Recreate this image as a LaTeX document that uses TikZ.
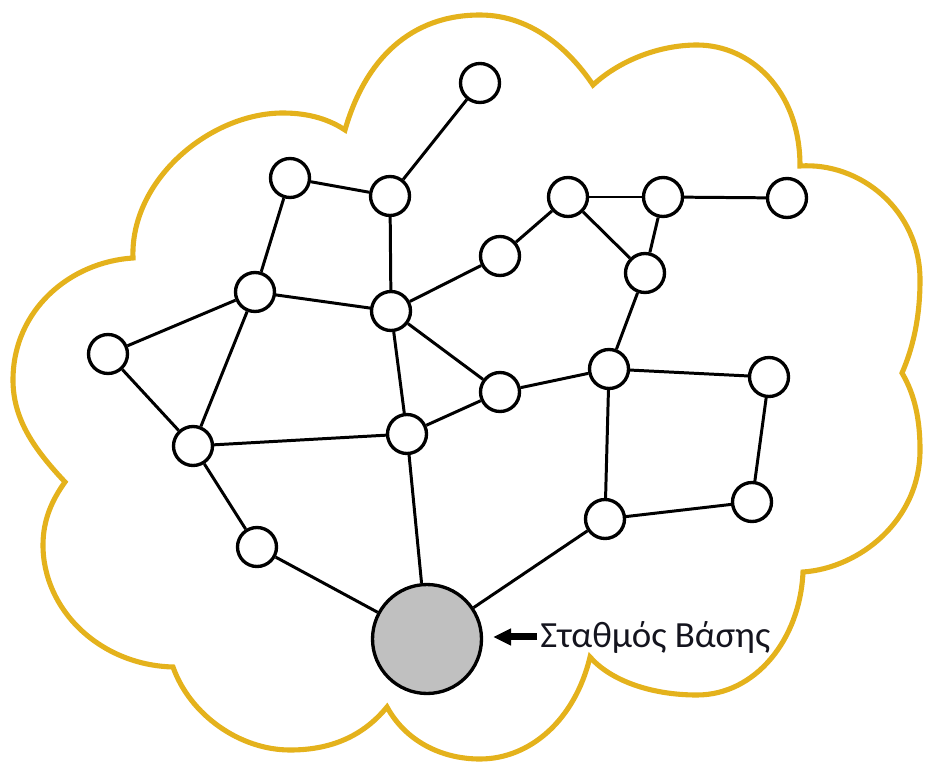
\documentclass[tikz,border=0pt]{standalone}
\usepackage{fontspec}
\setmainfont{Carlito}
\usetikzlibrary{arrows.meta}
\definecolor{cloudgold}{RGB}{228,178,28}
\definecolor{sinkgrey}{RGB}{192,192,192}
\definecolor{inkblack}{RGB}{20,20,30}
\tikzset{
  sensor/.style={circle, draw=black, fill=white, line width=1.9pt, minimum size=0.78cm, inner sep=0pt},
  sink/.style={sensor, fill=sinkgrey, minimum size=2.18cm},
  link/.style={line width=1.7pt, draw=black},
  rim/.style={draw=cloudgold, line width=2.9pt},
  lbl/.style={font=\fontsize{21}{25}\selectfont, text=inkblack, inner sep=0pt},
  ptr/.style={-{Triangle[length=0.36cm,width=0.32cm]}, line width=0.14cm, draw=black, shorten <=0.06cm, shorten >=0.2cm},
}
\begin{document}
\begin{tikzpicture}[x=0.02cm, y=-0.02cm]
  \useasboundingbox (0,0) rectangle (925,763);
  % cloud outline
  \draw[rim] (345,130)
    .. controls (365,60) and (410,15) .. (480,15)
    .. controls (535,15) and (573,55) .. (593,85)
    .. controls (620,60) and (660,45) .. (697,45)
    .. controls (750,45) and (800,90) .. (800,166)
    .. controls (860,162) and (920,210) .. (920,280)
    .. controls (920,320) and (912,350) .. (902,373)
    .. controls (915,395) and (920,420) .. (920,450)
    .. controls (920,520) and (860,568) .. (803,572)
    .. controls (800,640) and (755,695) .. (697,695)
    .. controls (650,695) and (610,680) .. (590,657)
    .. controls (575,720) and (530,759) .. (480,759)
    .. controls (440,759) and (405,740) .. (387,707)
    .. controls (360,740) and (325,750) .. (290,750)
    .. controls (240,750) and (190,715) .. (173,667)
    .. controls (100,665) and (43,610) .. (43,545)
    .. controls (43,520) and (52,500) .. (65,482)
    .. controls (35,450) and (13,420) .. (13,380)
    .. controls (13,310) and (70,262) .. (133,258)
    .. controls (130,180) and (210,113) .. (283,113)
    .. controls (310,113) and (330,120) .. (345,130)
    -- cycle;
  % sensor nodes
  \foreach \n/\x/\y in {1/480/83, 2/290/178, 3/390/196, 4/568/197, 5/663/197, 6/787/198,
     7/500/256, 8/645/273, 9/255/292, 10/391/311, 11/108/354, 12/609/369, 13/769/377,
     14/500/392, 15/193/446, 16/407/434, 17/605/519, 18/752/502, 19/257/547}{
    \node[sensor] (s\n) at (\x,\y) {};
  }
  \node[sink] (bs) at (427,639) {};
  % links
  \foreach \a/\b in {1/3, 2/3, 2/9, 3/10, 4/7, 4/5, 4/8, 5/6, 5/8, 7/10, 8/12, 9/10, 9/11,
     9/15, 10/14, 10/16, 11/15, 12/14, 12/13, 12/17, 13/18, 14/16, 15/16, 15/19, 17/18}{
    \draw[link] (s\a) -- (s\b);
  }
  \foreach \a in {16,17,19}{\draw[link] (s\a) -- (bs);}
  % label
  \node[lbl, anchor=base west] (bslbl) at (540,647) {Σταθμός Βάσης};
  \draw[ptr] (bslbl.west) -- (bslbl.west -| bs.east);
\end{tikzpicture}
\end{document}
